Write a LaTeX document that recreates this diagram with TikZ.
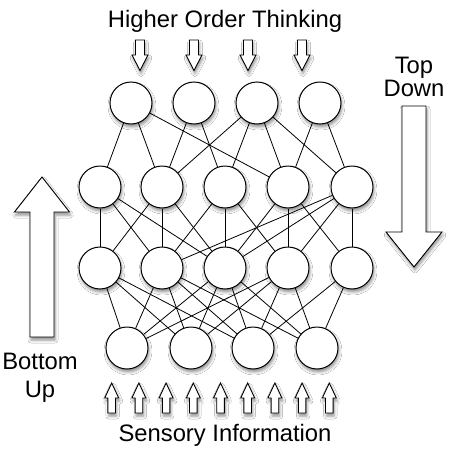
\documentclass[tikz,border=0pt]{standalone}
\usepackage{fontspec}
\setmainfont{Liberation Sans}
\usetikzlibrary{shadows.blur}
\begin{document}
\begin{tikzpicture}[x=1pt,y=-1pt,
  neuron/.style={circle, draw=black, fill=white, line width=1pt, minimum size=42pt, inner sep=0pt,
    blur shadow={shadow xshift=1pt, shadow yshift=-3pt, shadow blur radius=3pt, shadow opacity=45}},
  link/.style={draw=black, line width=0.8pt},
  arrowshape/.style={draw=black, fill=white, line width=0.9pt, line join=miter,
    blur shadow={shadow xshift=1pt, shadow yshift=-3pt, shadow blur radius=3pt, shadow opacity=45}},
  label/.style={font=\fontsize{23.8}{27}\selectfont, inner sep=0pt, align=center}]
\useasboundingbox (0,0) rectangle (450,450);
\fill[white] (0,0) rectangle (450,450);
% neurons
\foreach \i/\x in {1/131,2/194,3/257,4/320} \node[neuron] (A\i) at (\x,103) {};
\foreach \i/\x in {1/100,2/162,3/225,4/288,5/352} \node[neuron] (B\i) at (\x,187) {};
\foreach \i/\x in {1/100,2/162,3/225,4/288,5/352} \node[neuron] (C\i) at (\x,268) {};
\foreach \i/\x in {1/127,2/191,3/253,4/317} \node[neuron] (D\i) at (\x,348) {};
% connections
\foreach \a/\b in {A1/B1,A1/B2,A1/B4,A2/B2,A2/B3,A3/B2,A3/B3,A3/B4,A3/B5,A4/B4,A4/B5,
  B1/C1,B1/C2,B1/C3,B2/C1,B2/C2,B2/C3,B3/C2,B3/C3,B3/C4,B4/C3,B4/C4,B4/C5,B5/C2,B5/C3,B5/C4,B5/C5,
  C1/D1,C1/D2,C1/D3,C2/D1,C2/D2,C2/D3,C2/D4,C3/D1,C3/D2,C3/D3,C3/D4,C4/D1,C4/D2,C4/D3,C4/D4,C5/D3,C5/D4}
  \draw[link] (\a) -- (\b);
% small down arrows
\foreach \x in {140,194,248,302}
  \draw[arrowshape] ({\x-4.5},40) -- ({\x+4.5},40) -- ({\x+4.5},55) -- ({\x+8},55) -- (\x,70.5) -- ({\x-8},55) -- ({\x-4.5},55) -- cycle;
% small up arrows
\foreach \x in {111.7,138.9,166.1,193.3,220.5,247.7,274.9,302.1,329.3}
  \draw[arrowshape] ({\x-3.8},413) -- ({\x+3.8},413) -- ({\x+3.8},398) -- ({\x+7},398) -- (\x,383) -- ({\x-7},398) -- ({\x-3.8},398) -- cycle;
% big arrows
\draw[arrowshape] (30,337) -- (54,337) -- (54,212) -- (69.5,212) -- (42,177) -- (14.5,212) -- (30,212) -- cycle;
\draw[arrowshape] (402,106) -- (426,106) -- (426,232) -- (442,232) -- (414,267) -- (386,232) -- (402,232) -- cycle;
% labels
\node[label, anchor=base] (hot) at (225,27) {Higher Order Thinking};
\node[label, anchor=base] (top) at (414,73) {Top};
\node[label, anchor=base] (down) at (414,96) {Down};
\node[label, anchor=base] (bot) at (40,369) {Bottom};
\node[label, anchor=base] (up) at (40,397) {Up};
\node[label, anchor=base] (sens) at (225,441) {Sensory Information};
\end{tikzpicture}
\end{document}
